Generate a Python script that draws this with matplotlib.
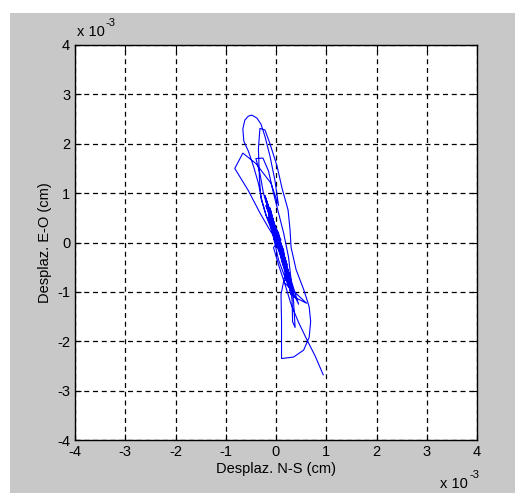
import matplotlib.pyplot as plt
from matplotlib.patches import Rectangle

# displacement trace, units of 1e-3 cm
ns_disp = [0.94, 0.78, 0.62, 0.45, 0.30, 0.18, 0.05, -0.05, 0.10, -0.10,
           0.05, 0.15, -0.05, 0.20, 0.10, 0.11, 0.11, 0.35, 0.55, 0.66,
           0.69, 0.66, 0.55, 0.40, 0.30, 0.28, 0.24, 0.12, 0.02, -0.12,
           -0.22, -0.32, -0.35, -0.33, -0.30, -0.20, -0.05, 0.08, 0.18, 0.15,
           -0.05, -0.15, -0.25, -0.32, -0.40, -0.26, -0.15, -0.05, 0.05, 0.15,
           0.25, 0.30, 0.35, 0.38, 0.33, 0.32, 0.25, 0.15, 0.61, 0.35,
           0.10, -0.05, -0.18, -0.28, -0.35, -0.45, -0.55, -0.64, -0.66, -0.62,
           -0.55, -0.48, -0.38, -0.30, -0.22, -0.12, -0.02, 0.05, -0.10, -0.40,
           -0.66, -0.66, -0.82, -0.55, -0.32, -0.15, 0.00, 0.12, -0.08, 0.18,
           -0.12, 0.22, -0.02, 0.25, 0.05, -0.15, 0.10, -0.20, 0.08, 0.28,
           0.12, 0.32, 0.20, 0.15, -0.10, 0.05, 0.20, -0.05, -0.20, 0.00,
           0.18, 0.30, 0.22, 0.45, 0.25, 0.10, -0.08, 0.05, -0.15, 0.12,
           -0.05, 0.20, -0.18, 0.02, 0.22, -0.10, 0.15, -0.22, 0.08, 0.26,
           -0.02, 0.18, -0.12, 0.10, 0.30, 0.05, -0.08, 0.16, -0.14, 0.06,
           0.24, 0.00, 0.14, -0.06, 0.12, 0.35, 0.20, 0.02]
ew_disp = [-2.68, -2.30, -1.98, -1.62, -1.25, -0.85, -0.45, -0.10, 0.05, 0.45,
           0.20, -0.30, 0.10, -0.55, -1.05, -1.60, -2.35, -2.32, -2.18, -1.92,
           -1.60, -1.30, -0.95, -0.55, -0.10, 0.25, 0.66, 1.10, 1.55, 2.00,
           2.28, 2.31, 1.90, 1.30, 0.90, 0.55, 0.25, -0.10, -0.45, -0.15,
           0.35, 0.65, 1.00, 1.40, 1.70, 1.71, 1.45, 1.00, 0.60, 0.20,
           -0.30, -0.75, -1.20, -1.72, -1.60, -1.16, -0.70, -0.80, -1.23, -1.10,
           -0.25, 0.15, 0.50, 0.85, 1.20, 1.55, 1.85, 2.05, 2.30, 2.48,
           2.56, 2.58, 2.52, 2.40, 2.15, 1.75, 1.25, 0.75, 1.20, 1.60,
           1.81, 1.81, 1.50, 1.05, 0.60, 0.30, 0.05, -0.25, 0.40, -0.45,
           0.70, -0.60, 0.20, -0.90, -0.35, 0.55, -0.15, 0.85, 0.00, -0.70,
           -0.20, -1.00, -0.50, -0.20, 0.30, 0.10, -0.40, 0.35, 0.75, 0.15,
           -0.55, -1.05, -0.75, -1.25, -0.60, -0.10, 0.30, 0.10, 0.60, -0.30,
           0.35, -0.55, 0.80, 0.20, -0.45, 0.55, -0.20, 0.95, 0.05, -0.65,
           0.30, -0.35, 0.65, -0.10, -0.85, 0.15, 0.45, -0.25, 0.50, 0.00,
           -0.60, 0.25, -0.15, 0.40, -0.40, -1.00, -0.50, 0.10]

xticks = [-4, -3, -2, -1, 0, 1, 2, 3, 4]
yticks = [-4, -3, -2, -1, 0, 1, 2, 3, 4]

plt.rcParams['font.family'] = ['Liberation Sans', 'DejaVu Sans']
plt.rcParams['axes.unicode_minus'] = False

fig = plt.figure(figsize=(5.15, 4.93), dpi=100)
fig.patch.set_facecolor('white')
fig.patches.append(Rectangle((10 / 515, 0), 1, (493 - 13) / 493,
                             transform=fig.transFigure, facecolor='#c8c8c8',
                             edgecolor='none', zorder=-10))

ax = fig.add_axes([75 / 515, (493 - 440) / 493, 402 / 515, 395 / 493])
ax.set_zorder(5)
ax.set_facecolor('white')
ax.plot(ns_disp, ew_disp, color='blue', linewidth=0.8)

ax.set_xlim(-4, 4)
ax.set_ylim(-4, 4)
ax.set_xticks(xticks)
ax.set_yticks(yticks)
ax.tick_params(direction='in', length=4, top=True, right=True, labelsize=10.5)
ax.grid(True, color='black', linestyle=(0, (4, 3)), linewidth=0.9)
for s in ax.spines.values():
    s.set_linewidth(1)

ax.set_xlabel('Desplaz. N-S (cm)', fontsize=10.5, labelpad=2)
ax.set_ylabel('Desplaz. E-O (cm)', fontsize=10.5, labelpad=4)

# MATLAB-style exponent labels
fig.text(77 / 515, 1 - 36 / 493, 'x 10', fontsize=10.5)
fig.text(106 / 515, 1 - 26 / 493, '-3', fontsize=8)
fig.text(440 / 515, 1 - 488 / 493, 'x 10', fontsize=10.5)
fig.text(469 / 515, 1 - 478 / 493, '-3', fontsize=8)

fig.savefig('out.png', dpi=100, facecolor=fig.get_facecolor())
